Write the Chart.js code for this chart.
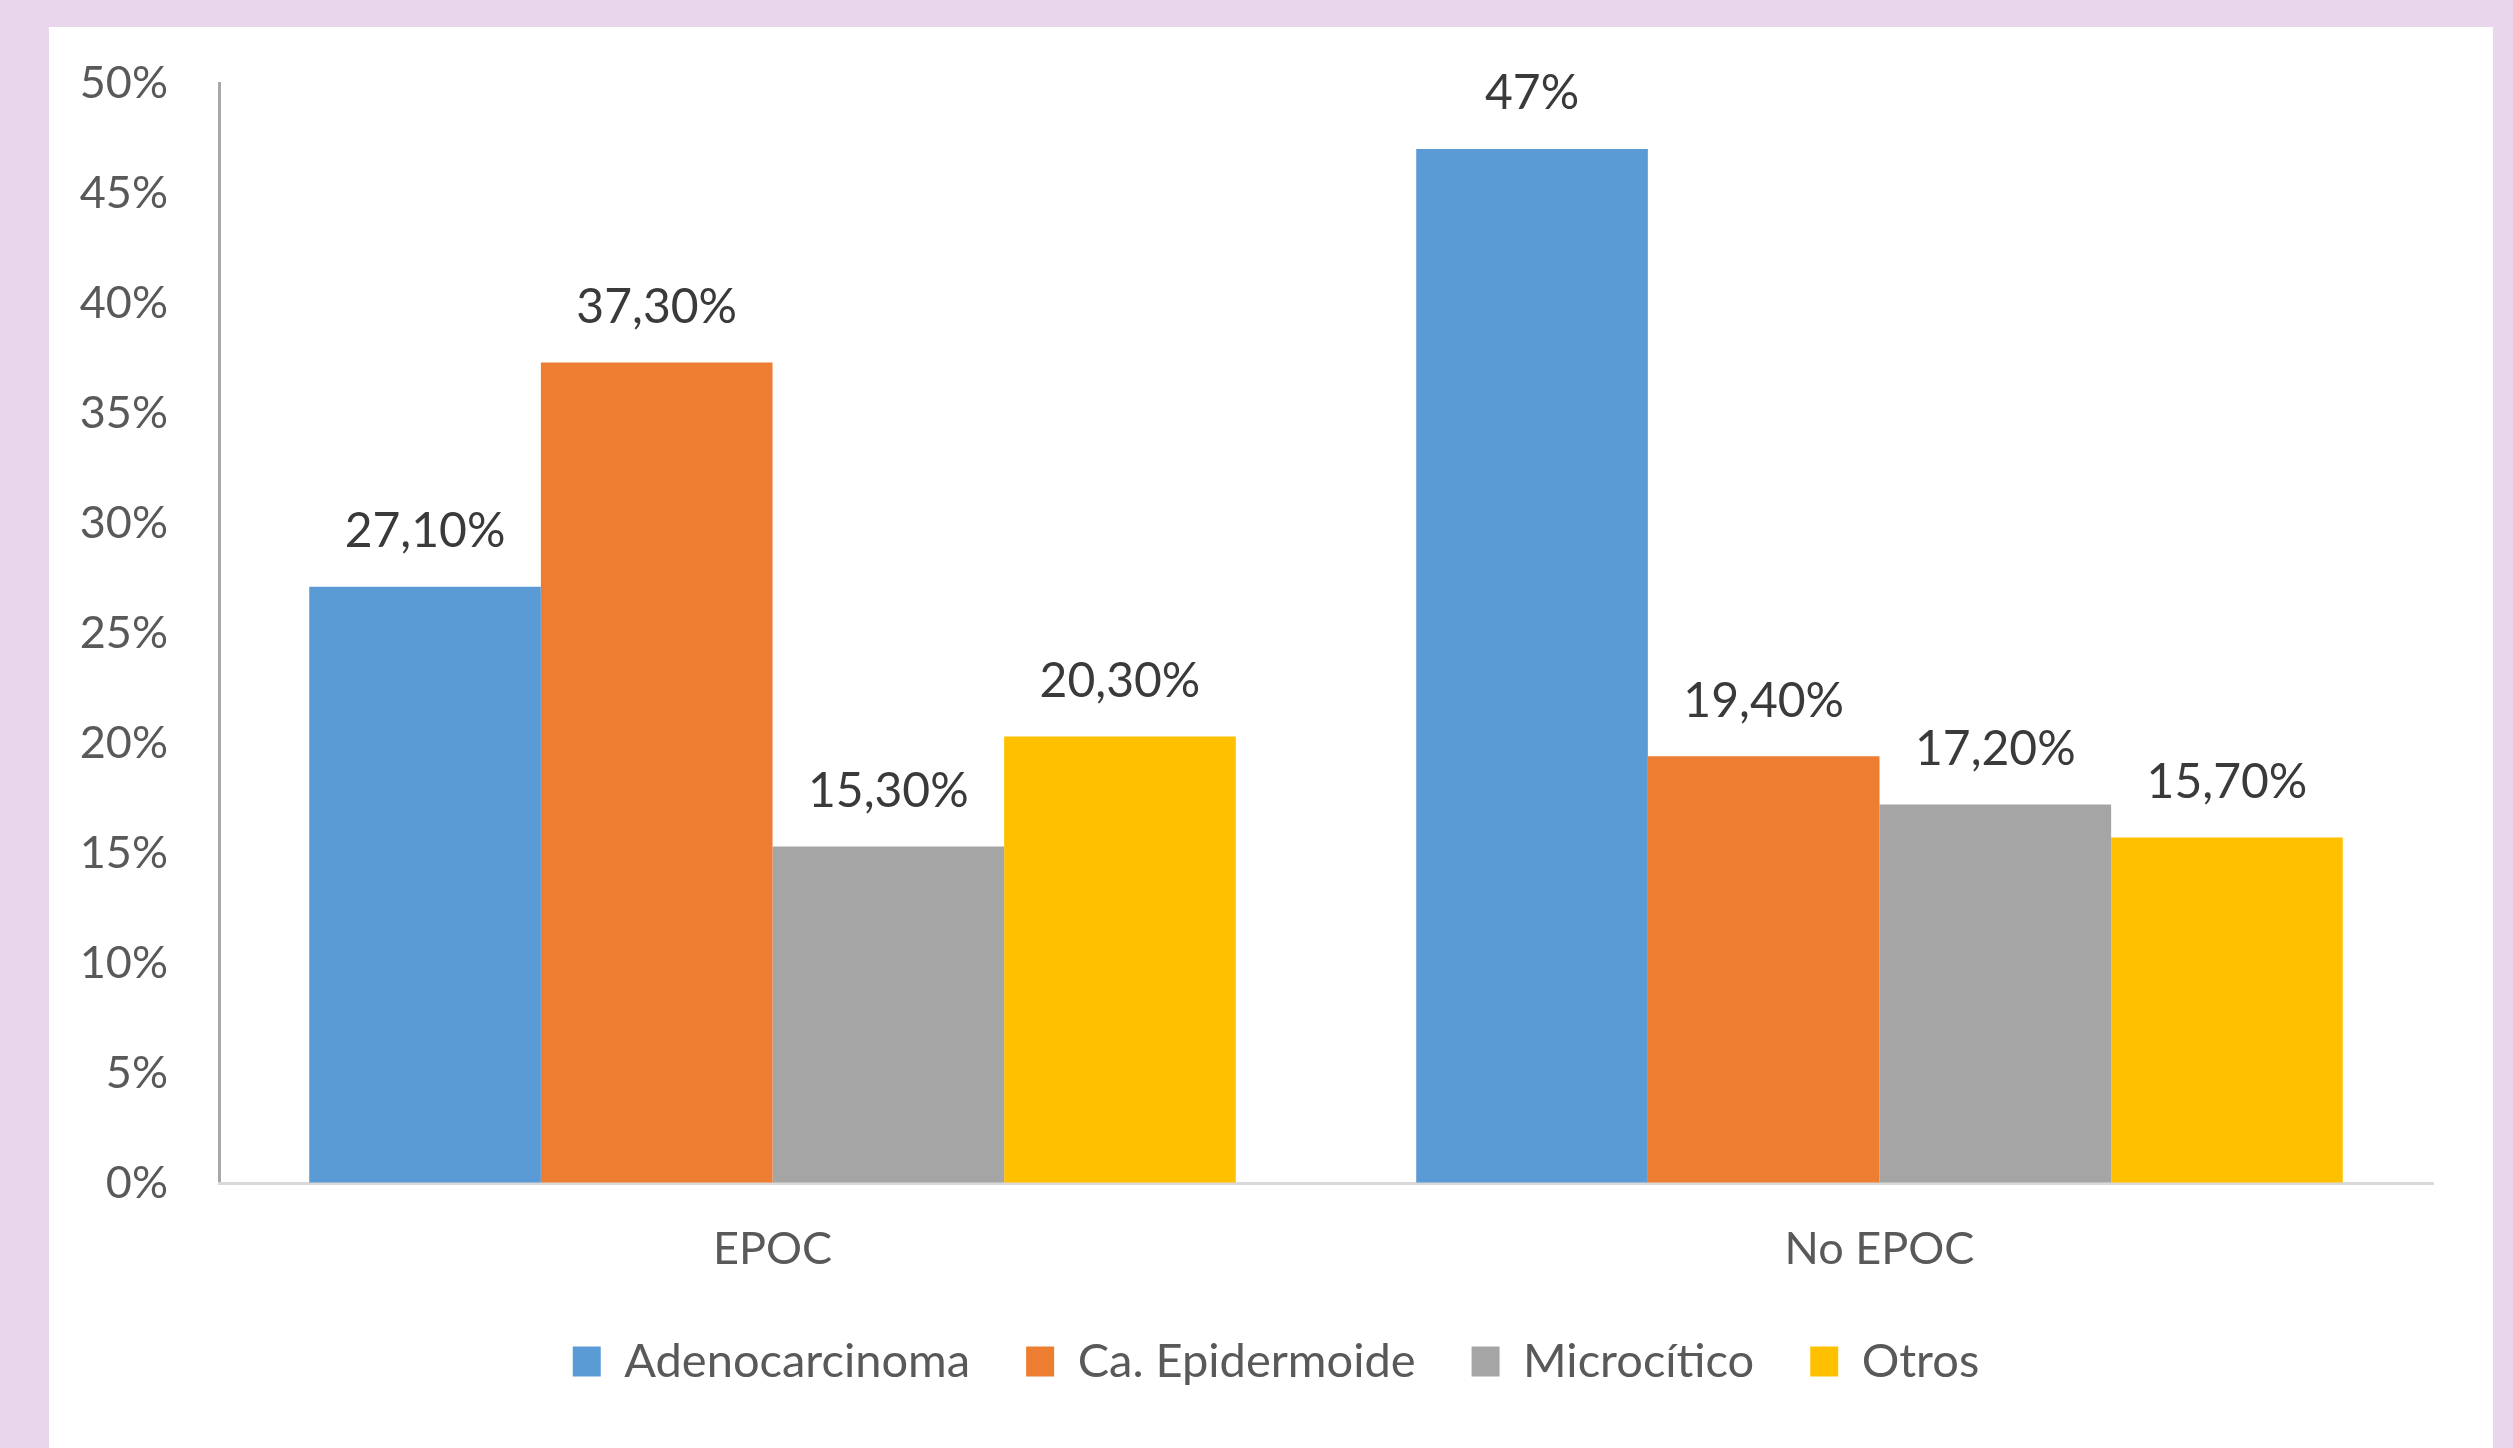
<!DOCTYPE html>
<html>
<head>
<meta charset="utf-8">
<script src="https://cdn.jsdelivr.net/npm/chart.js@4.4.1/dist/chart.umd.min.js"></script>
<style>
  html, body { margin: 0; padding: 0; }
  body { width: 2513px; height: 1448px; background: #ead6ec; overflow: hidden; position: relative; }
  #panel { position: absolute; left: 49px; top: 27px; width: 2444px; height: 1421px; background: #ffffff; }
  #grafico { display: block; }
</style>
</head>
<body>
<div id="panel"><canvas id="grafico" width="2444" height="1421"></canvas></div>
<script>
// Datos (porcentajes)
const categorias = ['EPOC', 'No EPOC'];
const series = ['Adenocarcinoma', 'Ca. Epidermoide', 'Microcítico', 'Otros'];
const adenocarcinoma = [27.1, 47];
const epidermoide = [37.3, 19.4];
const microcitico = [15.3, 17.2];
const otros = [20.3, 15.7];
const ticksY = [0, 5, 10, 15, 20, 25, 30, 35, 40, 45, 50];

const colores = ['#5b9bd5', '#ed7d31', '#a5a5a5', '#ffc000'];
const valores = [adenocarcinoma, epidermoide, microcitico, otros];

// Formato de las etiquetas: "27,10%" o "47%"
function formatoEtiqueta(v) {
    if (Number.isInteger(v)) return v + '%';
    return v.toFixed(2).replace('.', ',') + '%';
}

// Plugin para dibujar las etiquetas encima de cada barra
const etiquetasBarras = {
    id: 'etiquetasBarras',
    afterDatasetsDraw(chart) {
        const ctx = chart.ctx;
        ctx.save();
        ctx.font = '48px Lato';
        ctx.fillStyle = '#3a3a3a';
        ctx.textAlign = 'center';
        ctx.textBaseline = 'middle';
        chart.data.datasets.forEach(function (ds, i) {
            const meta = chart.getDatasetMeta(i);
            meta.data.forEach(function (bar, j) {
                ctx.fillText(formatoEtiqueta(ds.data[j]), bar.x, bar.y - 55);
            });
        });
        ctx.restore();
    }
};

// Desplazar la leyenda para centrarla como en el original
const moverLeyenda = {
    id: 'moverLeyenda',
    afterLayout(chart) {
        if (chart.legend) {
            chart.legend.left += 25;
            chart.legend.right += 25;
        }
    }
};

const ctx = document.getElementById('grafico').getContext('2d');
new Chart(ctx, {
    type: 'bar',
    data: {
        labels: categorias,
        datasets: series.map(function (nombre, i) {
            return {
                label: nombre,
                data: valores[i],
                backgroundColor: colores[i],
                borderWidth: 0,
                categoryPercentage: 0.837,
                barPercentage: 1
            };
        })
    },
    options: {
        responsive: false,
        animation: false,
        layout: { padding: { left: 20, right: 60, top: 56, bottom: 53 } },
        scales: {
            y: {
                min: 0,
                max: 50,
                afterBuildTicks: function (scale) {
                    scale.ticks = ticksY.map(function (v) { return { value: v }; });
                },
                afterFit: function (scale) {
                    scale.width = 150;
                    scale.paddingTop = 27;
                    scale.paddingBottom = 27;
                },
                ticks: {
                    callback: function (v) { return v + '%'; },
                    font: { family: 'Lato', size: 45 },
                    color: '#595959',
                    padding: 51,
                    autoSkip: false
                },
                grid: { display: true, drawOnChartArea: false, drawTicks: false },
                border: { display: true, color: '#a8a8a8', width: 3 }
            },
            x: {
                afterFit: function (scale) { scale.height = 99; },
                ticks: {
                    font: { family: 'Lato', size: 45 },
                    color: '#595959',
                    padding: 39
                },
                grid: { display: true, drawOnChartArea: false, drawTicks: false },
                border: { display: true, color: '#d9d9d9', width: 3 }
            }
        },
        plugins: {
            legend: {
                position: 'bottom',
                labels: {
                    font: { family: 'Lato', size: 47 },
                    color: '#595959',
                    boxWidth: 28,
                    boxHeight: 30,
                    padding: 56
                }
            },
            tooltip: { enabled: false }
        }
    },
    plugins: [etiquetasBarras, moverLeyenda]
});
</script>
</body>
</html>
